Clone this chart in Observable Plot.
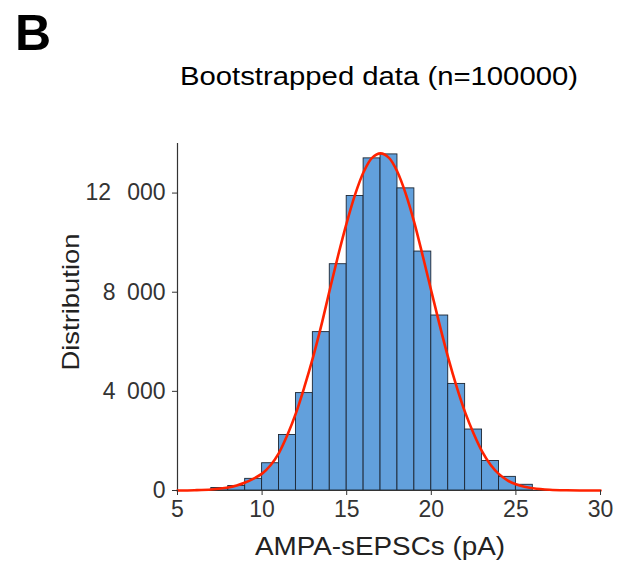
<!DOCTYPE html>
<html><head><meta charset="utf-8">
<script src="https://cdn.jsdelivr.net/npm/d3@7"></script>
<script src="https://cdn.jsdelivr.net/npm/@observablehq/plot@0.6"></script>
<style>
body{margin:0;background:#fff}
svg{font-family:"Liberation Sans",Arial,Helvetica,sans-serif}
</style>
</head><body><div id="chart"></div>
<script>
// Histogram bins (left edge, width 1 pA) and counts
const binStart = [7, 8, 9, 10, 11, 12, 13, 14, 15, 16, 17, 18, 19, 20, 21, 22, 23, 24, 25];
const counts   = [100, 180, 470, 1100, 2240, 3930, 6390, 9130, 11880, 13400, 13560, 12190, 9640, 7060, 4300, 2460, 1190, 550, 230];

// Fitted curve (red)
const fitX = [5, 6, 7, 8, 8.5, 9, 9.5, 10, 10.5, 11, 11.5, 12, 12.5, 13, 13.5, 14, 14.5, 15, 15.5, 16, 16.5, 17,
              17.5, 18, 18.5, 19, 19.5, 20, 20.5, 21, 21.5, 22, 22.5, 23, 23.5, 24, 24.5, 25, 25.5, 26, 27, 28, 29, 30];
const fitY = [3, 12, 40, 120, 200, 320, 480, 680, 1020, 1520, 2250, 3120, 4180, 5350, 6660, 8100, 9500, 10800, 11950, 12850, 13420, 13600,
              13420, 12850, 11950, 10800, 9450, 8050, 6660, 5350, 4180, 3150, 2300, 1580, 1040, 660, 410, 250, 150, 90, 30, 8, 2, 0];

const xTicks = [5, 10, 15, 20, 25, 30];
const yTicks = [0, 4000, 8000, 12000];
const yTickLabels = ["0", "4\u2002000", "8\u2002000", "12\u2002\u2009000"];

const panelLabel = "B";
const titleText = "Bootstrapped data (n=100000)";
const xLabel = "AMPA-sEPSCs (pA)";
const yLabel = "Distribution";

const bins = binStart.map((x, i) => ({x1: x, x2: x + 1, n: counts[i]}));
const fit = fitX.map((x, i) => ({x, y: fitY[i]}));

const plot = Plot.plot({
  width: 622, height: 567,
  marginLeft: 177, marginRight: 22, marginTop: 143, marginBottom: 77,
  x: {domain: [5, 30]},
  y: {domain: [0, 14000]},
  style: {fontFamily: '"Liberation Sans",Arial,sans-serif', fontSize: "23px", color: "#333", background: "#fff", overflow: "visible"},
  marks: [
    Plot.rectY(bins, {x1: "x1", x2: "x2", y: "n", fill: "#62a0dc", stroke: "#1c2633", strokeWidth: 0.9, inset: 0}),
    Plot.ruleX([5], {stroke: "#333", strokeWidth: 1.2}),
    Plot.ruleY([0], {stroke: "#333", strokeWidth: 1.2}),
    Plot.line(fit, {x: "x", y: "y", stroke: "#ff2200", strokeWidth: 2.6, curve: "catmull-rom"}),
    Plot.axisX({ticks: xTicks, tickSize: 5, tickPadding: 5, label: null, fontSize: 23, stroke: "#333"}),
    Plot.axisY({ticks: yTicks, tickFormat: d => yTickLabels[yTicks.indexOf(d)], tickSize: 5, tickPadding: 7, label: null, fontSize: 23, stroke: "#333"})
  ]
});

const svg = d3.select(plot);
svg.append("text").text(panelLabel)
  .attr("x", 15).attr("y", 50).attr("text-anchor", "start")
  .attr("font-size", 50).attr("font-weight", "bold").attr("fill", "#000");
svg.append("text").text(titleText)
  .attr("x", 379).attr("y", 85).attr("text-anchor", "middle")
  .attr("font-size", 26.5).attr("fill", "#000")
  .attr("textLength", 398).attr("lengthAdjust", "spacingAndGlyphs");
svg.append("text").text(xLabel)
  .attr("x", 380).attr("y", 555).attr("text-anchor", "middle")
  .attr("font-size", 25).attr("fill", "#222")
  .attr("textLength", 250).attr("lengthAdjust", "spacingAndGlyphs");
svg.append("text").text(yLabel)
  .attr("transform", "translate(79,302) rotate(-90)").attr("text-anchor", "middle")
  .attr("font-size", 24).attr("fill", "#222")
  .attr("textLength", 137).attr("lengthAdjust", "spacingAndGlyphs");

document.getElementById("chart").appendChild(plot);
</script>
</body></html>
